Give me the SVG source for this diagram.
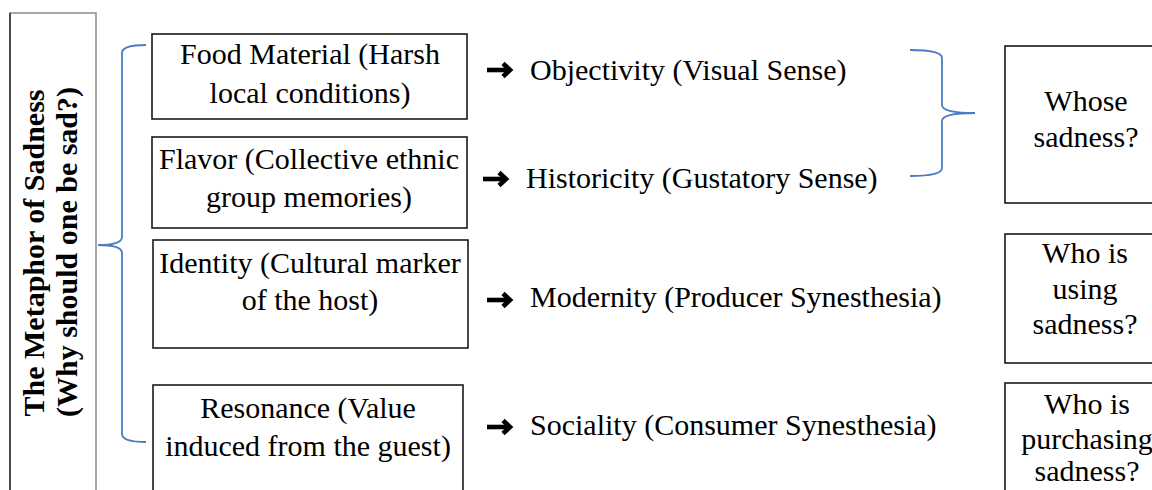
<svg xmlns="http://www.w3.org/2000/svg" width="1152" height="490" viewBox="0 0 1152 490">
<style>
.bx{fill:#fff;stroke:#1a1a1a;stroke-width:1.6}
.t{font-family:"Liberation Serif","Times New Roman",serif;font-size:30px;fill:#000;text-anchor:middle}
.l{font-family:"Liberation Serif","Times New Roman",serif;font-size:30px;fill:#000}
.br{fill:none;stroke:#4a7cc0;stroke-width:1.8}
.ti{font-family:"Liberation Serif","Times New Roman",serif;font-size:30px;font-weight:bold;fill:#000;text-anchor:middle}
.as{fill:none;stroke:#000;stroke-width:4.6;stroke-linejoin:miter;stroke-miterlimit:10}
</style>
<defs>
<g id="arrow">
<path class="as" d="M0,0 H21"/>
<path class="as" d="M16,-6.5 L23,0 L16,6.5"/>
</g>
</defs>
<rect width="1152" height="490" fill="#fff"/>
<g id="title">
<rect x="10" y="13" width="86" height="490" fill="#fff" stroke="#8a8a8a" stroke-width="1.5"/>
<line x1="10" y1="13" x2="10" y2="490" stroke="#333" stroke-width="1.6"/>
<text class="ti" transform="translate(44,253) rotate(-90)">The Metaphor of Sadness</text>
<text class="ti" transform="translate(77,252) rotate(-90)">(Why should one be sad?)</text>
</g>
<g id="connectors">
<path class="br" d="M146,45 Q122,45 122,53 L122,237 Q122,245 98,245 Q122,245 122,253 L122,434 Q122,442 146,442"/>
<path class="br" d="M910,50 Q942,50 942,58 L942,105 Q942,113 975,113 Q942,113 942,121 L942,168 Q942,176 910,176"/>
</g>
<g id="n1">
<rect class="bx" x="152" y="34" width="315" height="85"/>
<text class="t" x="310" y="64">Food Material (Harsh</text>
<text class="t" x="310" y="103">local conditions)</text>
</g>
<g id="n2">
<rect class="bx" x="152" y="137" width="315" height="91"/>
<text class="t" x="309" y="169">Flavor (Collective ethnic</text>
<text class="t" x="309" y="207">group memories)</text>
</g>
<g id="n3">
<rect class="bx" x="153" y="240" width="315" height="108"/>
<text class="t" x="310" y="273">Identity (Cultural marker</text>
<text class="t" x="310" y="310">of the host)</text>
</g>
<g id="n4">
<rect class="bx" x="153" y="385" width="310" height="110"/>
<text class="t" x="308" y="418">Resonance (Value</text>
<text class="t" x="308" y="456">induced from the guest)</text>
</g>
<g id="l1"><use href="#arrow" x="487" y="70"/><text class="l" x="530" y="80">Objectivity (Visual Sense)</text></g>
<g id="l2"><use href="#arrow" x="483" y="179"/><text class="l" x="526" y="188">Historicity (Gustatory Sense)</text></g>
<g id="l3"><use href="#arrow" x="487" y="300"/><text class="l" x="530" y="307">Modernity (Producer Synesthesia)</text></g>
<g id="l4"><use href="#arrow" x="487" y="427"/><text class="l" x="530" y="435">Sociality (Consumer Synesthesia)</text></g>
<g id="q1">
<rect class="bx" x="1005" y="46" width="160" height="157"/>
<text class="t" x="1086" y="111">Whose</text>
<text class="t" x="1086" y="147">sadness?</text>
</g>
<g id="q2">
<rect class="bx" x="1005" y="234" width="160" height="129"/>
<text class="t" x="1085" y="263">Who is</text>
<text class="t" x="1085" y="299">using</text>
<text class="t" x="1085" y="334">sadness?</text>
</g>
<g id="q3">
<rect class="bx" x="1005" y="383" width="160" height="120"/>
<text class="t" x="1087" y="414">Who is</text>
<text class="t" x="1087" y="449">purchasing</text>
<text class="t" x="1087" y="481">sadness?</text>
</g>
</svg>
